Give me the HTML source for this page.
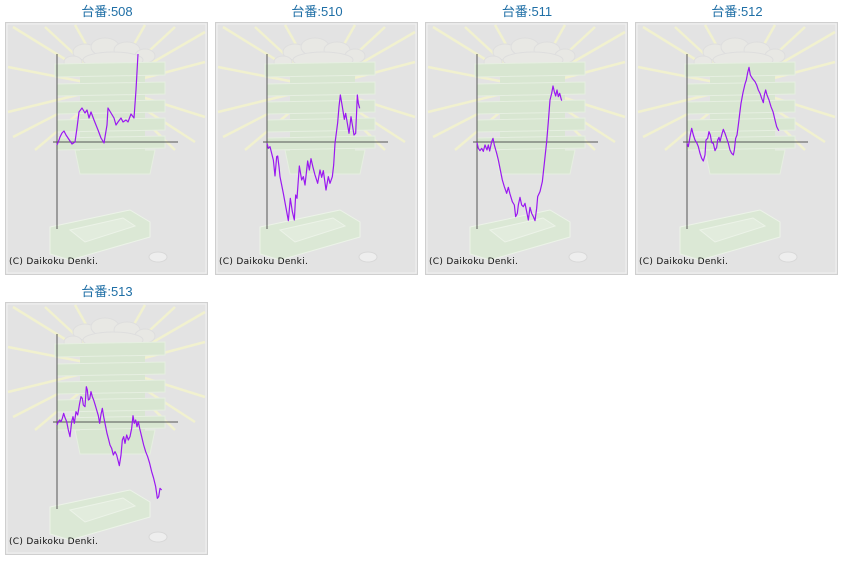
<!DOCTYPE html>
<html><head><meta charset="utf-8"><style>
body{margin:0;background:#fff;width:843px;height:561px;overflow:hidden;font-family:"Liberation Sans","Noto Sans CJK JP",sans-serif}
</style></head><body>
<svg width="843" height="561" xmlns="http://www.w3.org/2000/svg">
<defs>
<g id="bg">
<rect x="0.5" y="0.5" width="202" height="252" fill="#e4e4e4" stroke="#cfcfcf"/>
<rect x="2" y="2" width="199" height="249" fill="#e3e3e3" stroke="#f2f2f2"/>
<g stroke="#f1f1cf" stroke-width="2.5">
<line x1="105" y1="65" x2="8" y2="5"/><line x1="105" y1="65" x2="3" y2="45"/><line x1="105" y1="65" x2="3" y2="90"/>
<line x1="105" y1="65" x2="8" y2="115"/><line x1="105" y1="65" x2="40" y2="5"/><line x1="105" y1="65" x2="70" y2="3"/>
<line x1="105" y1="65" x2="140" y2="3"/><line x1="105" y1="65" x2="170" y2="5"/><line x1="105" y1="65" x2="200" y2="10"/>
<line x1="105" y1="65" x2="200" y2="40"/><line x1="105" y1="65" x2="200" y2="95"/><line x1="105" y1="65" x2="190" y2="120"/>
<line x1="105" y1="65" x2="30" y2="128"/><line x1="105" y1="65" x2="170" y2="128"/>
</g>
<g fill="#e8e8e4" stroke="#dedede"><ellipse cx="80" cy="30" rx="12" ry="8"/><ellipse cx="100" cy="25" rx="14" ry="9"/><ellipse cx="122" cy="28" rx="13" ry="8"/><ellipse cx="140" cy="34" rx="10" ry="7"/><ellipse cx="68" cy="40" rx="9" ry="6"/><ellipse cx="108" cy="38" rx="30" ry="8"/></g>
<g fill="#d8e6d1" stroke="#e6efe1">
<path d="M70 128 L150 128 L145 152 L75 152 Z"/>
<rect x="75" y="45" width="65" height="95" stroke="none"/>
<path d="M50 42 L160 40 L160 53 L50 55 Z"/>
<path d="M52 62 L160 60 L160 72 L52 74 Z"/>
<path d="M52 80 L160 78 L160 90 L52 92 Z"/>
<path d="M52 98 L160 96 L160 108 L52 110 Z"/>
<path d="M52 116 L160 114 L160 126 L52 128 Z"/>
</g>
<g fill="#dbe8d5" stroke="#ecf3e8">
<path d="M45 205 L125 188 L145 200 L145 215 L65 238 L45 232 Z"/>
<path d="M65 208 L118 196 L130 204 L80 220 Z" fill="#e2ecdd"/>
</g>
<ellipse cx="153" cy="235" rx="9" ry="5" fill="#eeeeee" stroke="#d8d8d8"/>
<text x="4" y="242" font-size="9" fill="#111" font-family="DejaVu Sans, sans-serif" letter-spacing="0.3">(C) Daikoku Denki.</text>
<line x1="52" y1="32" x2="52" y2="207" stroke="#555" stroke-width="1"/>
<line x1="48" y1="120" x2="173" y2="120" stroke="#555" stroke-width="1"/>
</g>
</defs>
<g font-size="13" fill="#1f6fa6" text-anchor="middle">
<text x="107" y="16">台番:508</text><text x="317" y="16">台番:510</text><text x="527" y="16">台番:511</text><text x="737" y="16">台番:512</text><text x="107" y="296">台番:513</text>
</g>
<use href="#bg" x="5" y="22"/><use href="#bg" x="215" y="22"/><use href="#bg" x="425" y="22"/><use href="#bg" x="635" y="22"/><use href="#bg" x="5" y="302"/>
<g fill="none" stroke="#9a18f0" stroke-width="1.2" stroke-linejoin="round">
<polyline points="57,145 59,140 60,137 62,133 64,131 66,135 68,138 70,141 72,144 75,142 77,128 79,112 82,108 85,113 87,110 89,118 91,112 94,120 98,130 101,138 104,143 107,125 108,108 111,113 114,118 116,125 118,122 121,118 123,122 126,120 128,122 131,114 134,118 136,90 138,54"/>
<g transform="translate(255,80) scale(0.33333)"><polyline vector-effect="non-scaling-stroke" points="36,190 40,205 45,200 55,240 60,288 65,230 68,228 72,260 75,290 85,340 100,422 106,355 112,395 118,420 122,345 126,355 133,258 140,300 145,290 150,315 158,243 163,270 168,236 174,262 180,285 188,310 195,270 200,292 205,272 213,330 220,290 225,310 232,290 236,255 240,190 248,128 252,80 256,45 262,80 268,118 272,100 277,130 282,160 288,110 293,140 297,165 302,160 307,45 310,70 314,85"/></g>
<g transform="translate(465,80) scale(0.33333)"><polyline vector-effect="non-scaling-stroke" points="36,188 40,205 45,212 50,205 55,214 60,195 66,210 70,195 74,213 80,185 84,175 88,195 95,220 100,240 105,265 112,300 118,320 125,340 130,322 135,342 142,365 148,375 152,410 157,400 160,375 165,352 170,375 175,380 180,370 185,395 190,420 195,382 200,400 205,410 210,422 215,385 218,350 225,335 232,305 238,250 245,185 250,125 255,60 260,40 264,18 268,35 272,48 276,30 280,50 284,40 288,55 290,62"/></g>
<g transform="translate(675,60) scale(0.33333)"><polyline vector-effect="non-scaling-stroke" points="36,250 40,260 45,230 50,205 55,225 60,240 65,248 70,260 75,280 80,295 85,303 90,285 93,240 98,235 102,215 106,225 110,248 115,250 120,272 125,262 128,240 132,232 135,245 140,225 145,208 150,220 155,235 160,250 165,270 170,280 175,285 178,270 182,235 186,225 190,195 194,162 198,130 204,98 210,72 214,60 218,38 222,22 226,45 232,55 240,65 245,75 250,90 255,100 260,115 265,128 268,105 272,90 276,105 282,120 288,140 294,155 300,180 305,200 310,210 312,212"/></g>
<g transform="translate(45,375) scale(0.33333)"><polyline vector-effect="non-scaling-stroke" points="36,150 40,140 44,135 48,140 52,130 56,115 60,128 65,140 70,165 75,185 80,140 84,125 88,145 93,110 98,120 104,85 108,65 112,70 115,90 120,95 124,35 127,45 130,75 134,72 138,50 142,65 146,75 150,88 155,105 160,122 164,145 168,118 172,100 176,125 180,145 186,175 190,190 195,210 200,220 205,240 210,230 215,240 220,260 223,272 228,240 232,195 236,185 240,205 245,180 250,195 255,185 260,160 264,122 268,145 272,135 276,155 280,140 284,160 290,185 296,210 302,230 308,245 314,265 320,290 326,310 332,335 337,370 341,365 345,340 350,345"/></g>
</g>
</svg>
</body></html>
